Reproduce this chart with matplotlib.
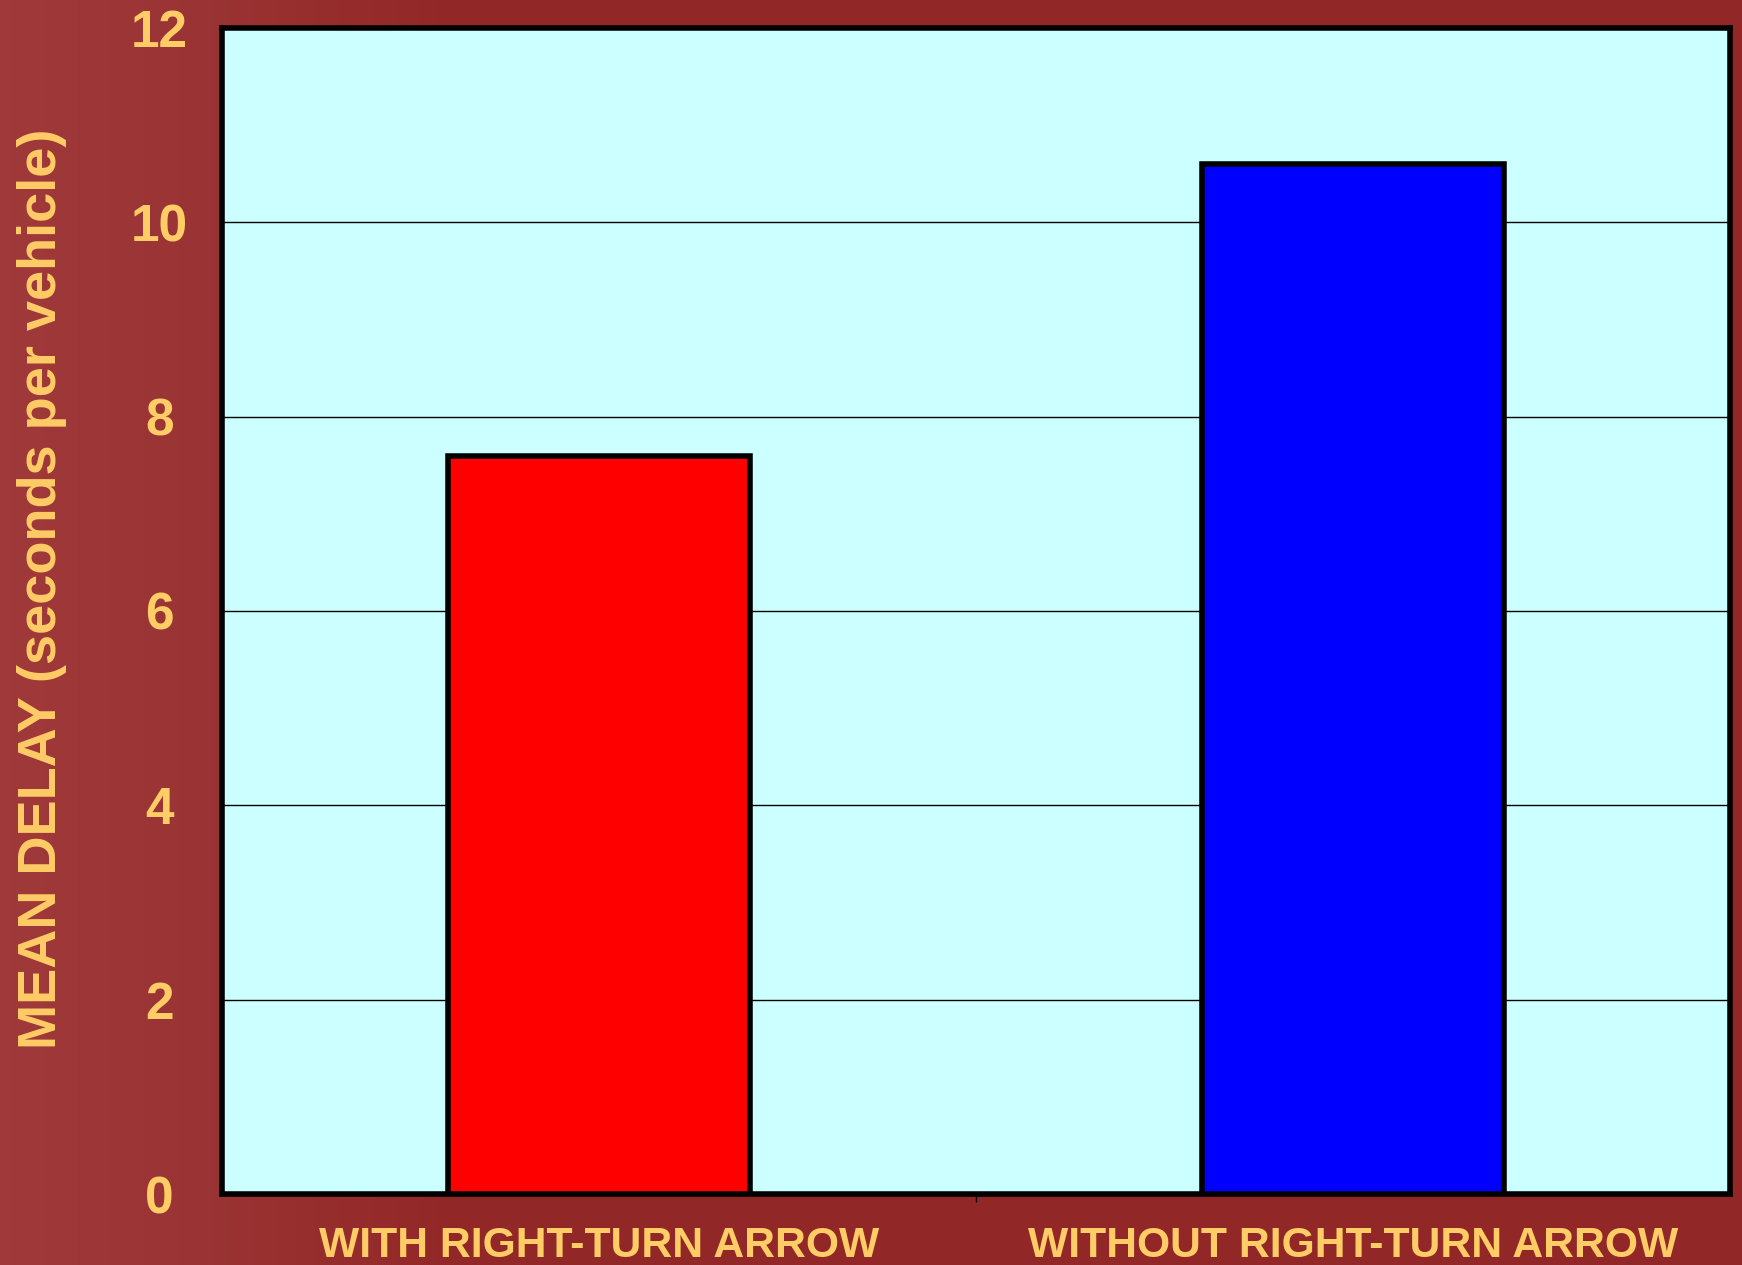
import matplotlib
matplotlib.use("Agg")
import matplotlib.pyplot as plt
import numpy as np
from matplotlib.colors import LinearSegmentedColormap

categories = ["WITH RIGHT-TURN ARROW", "WITHOUT RIGHT-TURN ARROW"]
values = [7.6, 10.6]
bar_colors = ["#FF0000", "#0000FF"]
yticks = [0, 2, 4, 6, 8, 10, 12]
ylabel = "MEAN DELAY (seconds per vehicle)"

BG = "#93282A"
TXT = "#FFCC66"
FONT = ["Liberation Sans", "DejaVu Sans"]

fig = plt.figure(figsize=(17.42, 12.65), dpi=100, facecolor=BG)

# subtle background shading (lighter on the left, like the slide texture)
bg = fig.add_axes([0, 0, 1, 1], zorder=-10)
bg.axis("off")
grad = np.linspace(0, 1, 400).reshape(1, -1)
cmap = LinearSegmentedColormap.from_list(
    "bgc", [(0, "#A03A3A"), (0.12, "#9A3333"), (0.25, "#932828"), (1, "#922727")])
bg.imshow(grad, aspect="auto", cmap=cmap, extent=[0, 1, 0, 1])
bg.set_xlim(0, 1)
bg.set_ylim(0, 1)

ax = fig.add_axes([0.1274, 0.0561, 0.9931 - 0.1274, 0.9779 - 0.0561])
ax.set_facecolor("#CCFFFF")

x = np.arange(len(categories))
ax.set_axisbelow(True)
ax.yaxis.grid(True, color="black", linewidth=1.0)
ax.bar(x, values, width=0.40, color=bar_colors, edgecolor="black", linewidth=4, zorder=3)

ax.set_xlim(-0.5, 1.5)
ax.set_ylim(0, 12)
ax.set_yticks(yticks)
ax.set_yticklabels([str(t) for t in yticks])
ax.set_xticks(x)
ax.set_xticklabels(categories)

for s in ax.spines.values():
    s.set_linewidth(4)
    s.set_color("black")

ax.tick_params(axis="y", length=0, pad=45, labelsize=37, labelcolor=TXT)
ax.tick_params(axis="x", length=0, pad=23, labelsize=30.7, labelcolor=TXT)
for lab in ax.get_yticklabels():
    lab.set_fontweight("bold")
    lab.set_family(FONT)
    lab.set_horizontalalignment("center")
for lab in ax.get_xticklabels():
    lab.set_fontweight("bold")
    lab.set_family(FONT)

ax.set_xticks([0.5], minor=True)
ax.tick_params(axis="x", which="minor", length=6, width=1, color="black", direction="out")

fig.text(42 / 1742, 1 - 589 / 1265, ylabel, rotation=90, ha="center", va="center",
         fontsize=39, fontweight="bold", color=TXT, family=FONT)

fig.savefig("out.png", dpi=100, facecolor=BG)
